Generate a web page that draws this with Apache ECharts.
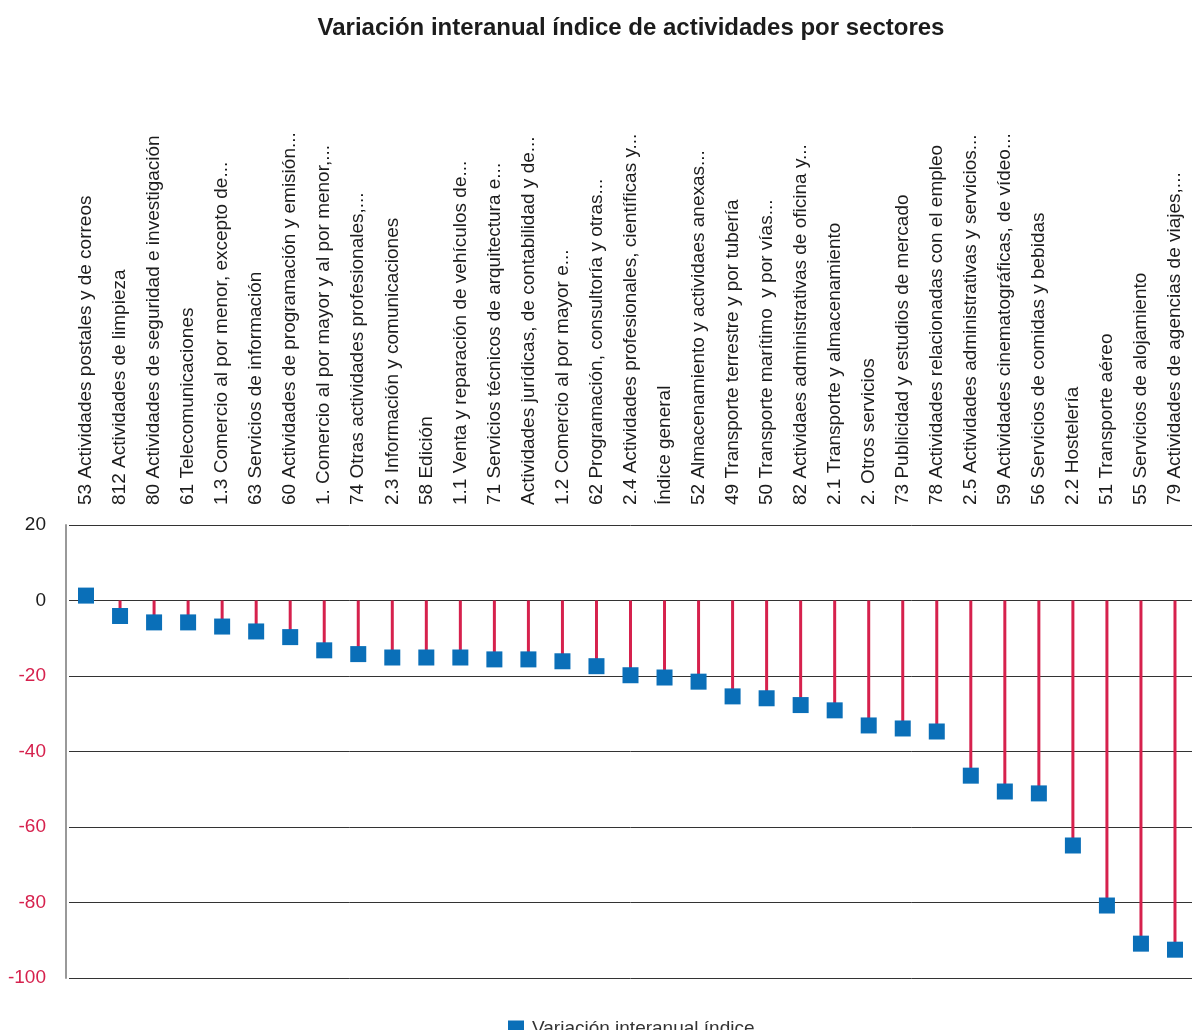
<!DOCTYPE html>
<html>
<head>
<meta charset="utf-8">
<script src="https://cdn.jsdelivr.net/npm/echarts@6/dist/echarts.min.js"></script>
<style>
  html, body { margin: 0; padding: 0; background: #fff; }
  #chart { width: 1192px; height: 1030px; }
</style>
</head>
<body>
<div id="chart"></div>
<script>
// sectores, ordenados como en el gráfico original
const sectores = [
  '53 Actividades postales y de correos',
  '812 Actividades de limpieza',
  '80 Actividades de seguridad e investigación',
  '61 Telecomunicaciones',
  '1.3 Comercio al por menor, excepto de...',
  '63 Servicios de información',
  '60 Actividades de programación y emisión...',
  '1. Comercio al por mayor y al por menor,...',
  '74 Otras actividades profesionales,...',
  '2.3 Información y comunicaciones',
  '58 Edición',
  '1.1 Venta y reparación de vehículos de...',
  '71 Servicios técnicos de arquitectura e...',
  'Actividades jurídicas, de contabilidad y de...',
  '1.2 Comercio al por mayor e...',
  '62 Programación, consultoría y otras...',
  '2.4 Actividades profesionales, científicas y...',
  'Índice general',
  '52 Almacenamiento y actividaes anexas...',
  '49 Transporte terrestre y por tubería',
  '50 Transporte marítimo  y por vías...',
  '82 Actividaes administrativas de oficina y...',
  '2.1 Transporte y almacenamiento',
  '2. Otros servicios',
  '73 Publicidad y estudios de mercado',
  '78 Actividades relacionadas con el empleo',
  '2.5 Actividades administrativas y servicios...',
  '59 Actividades cinematográficas, de vídeo...',
  '56 Servicios de comidas y bebidas',
  '2.2 Hostelería',
  '51 Transporte aéreo',
  '55 Servicios de alojamiento',
  '79 Actividades de agencias de viajes,...'
]

// variación interanual (%)
const variacion = [
  1.3, -4.1, -5.8, -5.8, -6.9, -8.2, -9.7, -13.2, -14.2, -15.1, -15.1,
  -15.1, -15.6, -15.6, -16.1, -17.4, -19.8, -20.4, -21.5, -25.4, -25.9,
  -27.7, -29.1, -33.1, -33.9, -34.7, -46.4, -50.6, -51.1, -64.9, -80.8,
  -90.9, -92.5
]

const yTicks = { min: -100, max: 20, interval: 20 }
const nombreSerie = 'Variación interanual índice'

const FONT = "'Liberation Sans', Arial, Helvetica, sans-serif"
const AZUL = '#0a6fb8'
const ROJO = '#d6214d'
const TEXTO = '#1c1c1c'

const chart = echarts.init(document.getElementById('chart'), null, { renderer: 'canvas' })

chart.setOption({
  animation: false,
  textStyle: { fontFamily: FONT },
  title: {
    text: 'Variación interanual índice de actividades por sectores',
    left: 626,
    textAlign: 'center',
    top: 11,
    textStyle: { fontSize: 24, fontWeight: 'bold', color: TEXTO, fontFamily: FONT }
  },
  legend: {
    data: [nombreSerie],
    left: 503,
    top: 1014,
    icon: 'rect',
    itemWidth: 16,
    itemHeight: 16,
    itemGap: 10,
    textStyle: { fontSize: 19, color: '#333', fontFamily: FONT, padding: [0, 0, 0, 3] }
  },
  grid: {
    left: 69,
    right: -3,
    top: 525,
    bottom: 52,
    containLabel: false
  },
  xAxis: {
    type: 'category',
    position: 'top',
    data: sectores,
    boundaryGap: true,
    axisLine: { show: false },
    axisTick: { show: false },
    splitLine: { show: false },
    axisLabel: {
      rotate: 90,
      interval: 0,
      margin: 20,
      fontSize: 19,
      color: TEXTO,
      fontFamily: FONT
    }
  },
  yAxis: {
    type: 'value',
    min: yTicks.min,
    max: yTicks.max,
    interval: yTicks.interval,
    offset: 3,
    axisLine: { show: true, lineStyle: { color: '#999', width: 2 } },
    axisTick: { show: false },
    splitLine: { show: true, lineStyle: { color: '#333', width: 1 } },
    axisLabel: {
      margin: 20,
      fontSize: 19,
      fontFamily: FONT,
      color: v => (v < 0 ? ROJO : TEXTO)
    }
  },
  series: [
    {
      // líneas verticales desde 0 hasta el valor
      name: 'linea',
      type: 'bar',
      data: variacion,
      barWidth: 3,
      itemStyle: { color: ROJO },
      silent: true
    },
    {
      name: nombreSerie,
      type: 'scatter',
      data: variacion,
      symbol: 'rect',
      symbolSize: 16,
      itemStyle: { color: AZUL, opacity: 1 },
      z: 5
    }
  ]
})
</script>
</body>
</html>
